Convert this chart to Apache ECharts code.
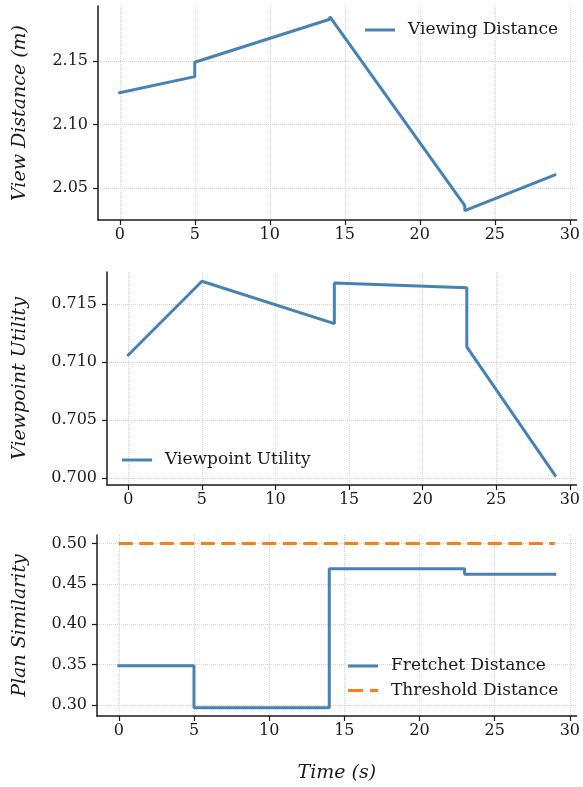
<!DOCTYPE html>
<html>
<head>
<meta charset="utf-8">
<script src="https://cdn.jsdelivr.net/npm/echarts@6/dist/echarts.min.js"></script>
<style>
  html, body { margin: 0; padding: 0; background: #fff; }
  #chart { width: 583px; height: 787px; }
</style>
</head>
<body>
<div id="chart"></div>
<script>
// time ticks shared by all three panels
const timeTicks = [0, 5, 10, 15, 20, 25, 30];

// panel 1: viewing distance (m)
const viewTime = [0, 5, 5, 14, 14, 23, 23, 29];
const viewDist = [2.125, 2.1377, 2.149, 2.1828, 2.1848, 2.0363, 2.0324, 2.0605];
const viewTicks = [2.05, 2.10, 2.15];

// panel 2: viewpoint utility
const utilTime = [0, 5, 14, 14, 23, 23, 29];
const utilVals = [0.7106, 0.71695, 0.7133, 0.7168, 0.7164, 0.7113, 0.70023];
const utilTicks = [0.700, 0.705, 0.710, 0.715];

// panel 3: plan similarity (step changes at 5, 14, 23)
const fretTime = [0, 5, 14, 23, 29];
const fretVals = [0.3488, 0.2967, 0.4686, 0.462, 0.462];
const threshTime = [0, 29];
const threshVals = [0.5, 0.5];
const simTicks = [0.30, 0.35, 0.40, 0.45, 0.50];

const BLUE = '#4682b4';
const ORANGE = '#ff7f0e';
const FONT = 'DejaVu Serif';
const INK = '#1a1a1a';

// legend handles: a plain stroke and a two-dash stroke
const SOLID_ICON = 'path://M0,0H30V3H0Z';
const DASH_ICON = 'path://M0,0H15V3H0ZM22,0H30V3H22Z';

const zip = (xs, ys) => xs.map((x, i) => [x, ys[i]]);

function xAxisFor(gridIndex, name) {
  return {
    type: 'value', gridIndex: gridIndex, min: -1.45, max: 30.45,
    name: name || '', nameLocation: 'middle', nameGap: 48,
    nameTextStyle: { fontFamily: FONT, fontStyle: 'italic', fontSize: 19, color: INK },
    axisLine: { onZero: false, lineStyle: { color: INK, width: 1.5 } },
    axisTick: { customValues: timeTicks, length: 5, lineStyle: { color: INK, width: 1.2 } },
    axisLabel: { customValues: timeTicks, margin: 7, fontFamily: FONT, fontSize: 16, color: INK },
    splitLine: { show: true, lineStyle: { color: '#d4d4d4', type: 'dotted', width: 1 } }
  };
}

function yAxisFor(gridIndex, min, max, ticks, digits, name, gap) {
  return {
    type: 'value', gridIndex: gridIndex, min: min, max: max,
    name: name, nameLocation: 'middle', nameGap: gap, nameRotate: 90,
    nameTextStyle: { fontFamily: FONT, fontStyle: 'italic', fontSize: 19, color: INK },
    axisLine: { show: true, onZero: false, lineStyle: { color: INK, width: 1.5 } },
    axisTick: { show: true, customValues: ticks, length: 5, lineStyle: { color: INK, width: 1.2 } },
    axisLabel: {
      customValues: ticks, margin: 10, fontFamily: FONT, fontSize: 16, color: INK,
      formatter: v => v.toFixed(digits)
    },
    splitLine: { show: true, lineStyle: { color: '#d4d4d4', type: 'dotted', width: 1 } }
  };
}

function lineSeries(name, gridIndex, data, color, extra) {
  return Object.assign({
    name: name, type: 'line', xAxisIndex: gridIndex, yAxisIndex: gridIndex,
    data: data, showSymbol: false, symbol: 'none', animation: false,
    lineStyle: { color: color, width: 3, cap: 'square' },
    itemStyle: { color: color }
  }, extra || {});
}

const legendText = { fontFamily: FONT, fontSize: 17, color: INK, lineHeight: 20, padding: [0, 0, 0, 8] };
const legendBase = { padding: 0, itemWidth: 30, itemHeight: 3, textStyle: legendText };

const chart = echarts.init(document.getElementById('chart'), null, { renderer: 'canvas' });
chart.setOption({
  animation: false,
  backgroundColor: '#fff',
  grid: [
    { left: 98, top: 6, width: 482, height: 214 },
    { left: 107, top: 272, width: 473, height: 213 },
    { left: 97, top: 535, width: 483, height: 181 }
  ],
  xAxis: [xAxisFor(0), xAxisFor(1), xAxisFor(2, 'Time (s)')],
  yAxis: [
    yAxisFor(0, 2.0251, 2.1932, viewTicks, 2, 'View Distance (m)', 68),
    yAxisFor(1, 0.6994, 0.71775, utilTicks, 3, 'Viewpoint Utility', 77),
    yAxisFor(2, 0.2865, 0.5105, simTicks, 2, 'Plan Similarity', 67)
  ],
  legend: [
    Object.assign({ data: [{ name: 'Viewing Distance', icon: SOLID_ICON }], left: 365, top: 20 }, legendBase),
    Object.assign({ data: [{ name: 'Viewpoint Utility', icon: SOLID_ICON }], left: 122, top: 450 }, legendBase),
    Object.assign({
      data: [{ name: 'Fretchet Distance', icon: SOLID_ICON }, { name: 'Threshold Distance', icon: DASH_ICON }],
      orient: 'vertical', left: 348, top: 656, itemGap: 4.6
    }, legendBase)
  ],
  series: [
    lineSeries('Viewing Distance', 0, zip(viewTime, viewDist), BLUE),
    lineSeries('Viewpoint Utility', 1, zip(utilTime, utilVals), BLUE),
    lineSeries('Fretchet Distance', 2, zip(fretTime, fretVals), BLUE, { step: 'end' }),
    lineSeries('Threshold Distance', 2, zip(threshTime, threshVals), ORANGE,
      { lineStyle: { color: ORANGE, width: 3, type: [14, 6.5] } })
  ]
});
</script>
</body>
</html>
